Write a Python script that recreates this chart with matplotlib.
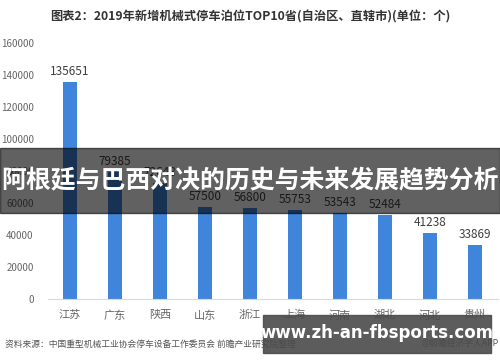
import matplotlib.pyplot as plt
from matplotlib.patches import Rectangle

plt.rcParams['font.family'] = ['Noto Sans CJK SC', 'DejaVu Sans']

provinces = ['江苏', '广东', '陕西', '山东', '浙江', '上海', '河南', '湖北', '河北', '贵州']
spaces = [135651, 79385, 72648, 57500, 56800, 55753, 53543, 52484, 41238, 33869]
yticks = [0, 20000, 40000, 60000, 80000, 100000, 120000, 140000, 160000]

title = '图表2：2019年新增机械式停车泊位TOP10省(自治区、直辖市)(单位：个)'
source = '资料来源：中国重型机械工业协会停车设备工作委员会 前瞻产业研究院整理'
credit = '@前瞻经济学人APP'
banner = '阿根廷与巴西对决的历史与未来发展趋势分析'
site = 'www.zh-an-fbsports.com'

fig = plt.figure(figsize=(5.0, 3.62), dpi=100)
ax = fig.add_axes([0.095, 0.174, 0.90, 0.707])

x = range(len(provinces))
ax.bar(x, spaces, width=0.31, color='#3f85db')
for xi, v in zip(x, spaces):
    ax.text(xi, v + 2500, str(v), ha='center', va='bottom', fontsize=8.5, color='#404040')

ax.set_xlim(-0.5, len(provinces) - 0.5)
ax.set_ylim(0, 160000)
ax.set_yticks(yticks)
ax.set_yticklabels([str(t) for t in yticks])
ax.set_xticks(list(x))
ax.set_xticklabels(provinces)
ax.tick_params(axis='y', length=0, labelsize=7, labelcolor='#666666', pad=10)
ax.tick_params(axis='x', length=0, labelsize=8, labelcolor='#666666', pad=8)
for s in ['top', 'right', 'left']:
    ax.spines[s].set_visible(False)
ax.spines['bottom'].set_color('#d9d9d9')

fig.text(0.5, 0.953, title, ha='center', va='center', fontsize=8.8, fontweight='bold', color='#333333')
fig.text(0.01, 0.05, source, ha='left', va='center', fontsize=6.3, color='#555555')
fig.text(0.998, 0.05, credit, ha='right', va='center', fontsize=6.3, color='#555555')

# dark banner across the chart
fig.patches.append(Rectangle((0, 0.412), 1, 0.18, transform=fig.transFigure,
                             color='black', alpha=0.62, zorder=5))
fig.text(0.5, 0.5, banner, ha='center', va='center', fontsize=17.9, fontweight='bold',
         color='white', zorder=6)

# site watermark box
fig.patches.append(Rectangle((0.526, 0.025), 0.456, 0.105, transform=fig.transFigure,
                             color='#4a4a4a', alpha=0.9, zorder=5))
fig.text(0.754, 0.08, site, ha='center', va='center', fontsize=12, fontweight='bold',
         color='white', zorder=6, family='DejaVu Sans')

fig.savefig('out.png', dpi=100)
